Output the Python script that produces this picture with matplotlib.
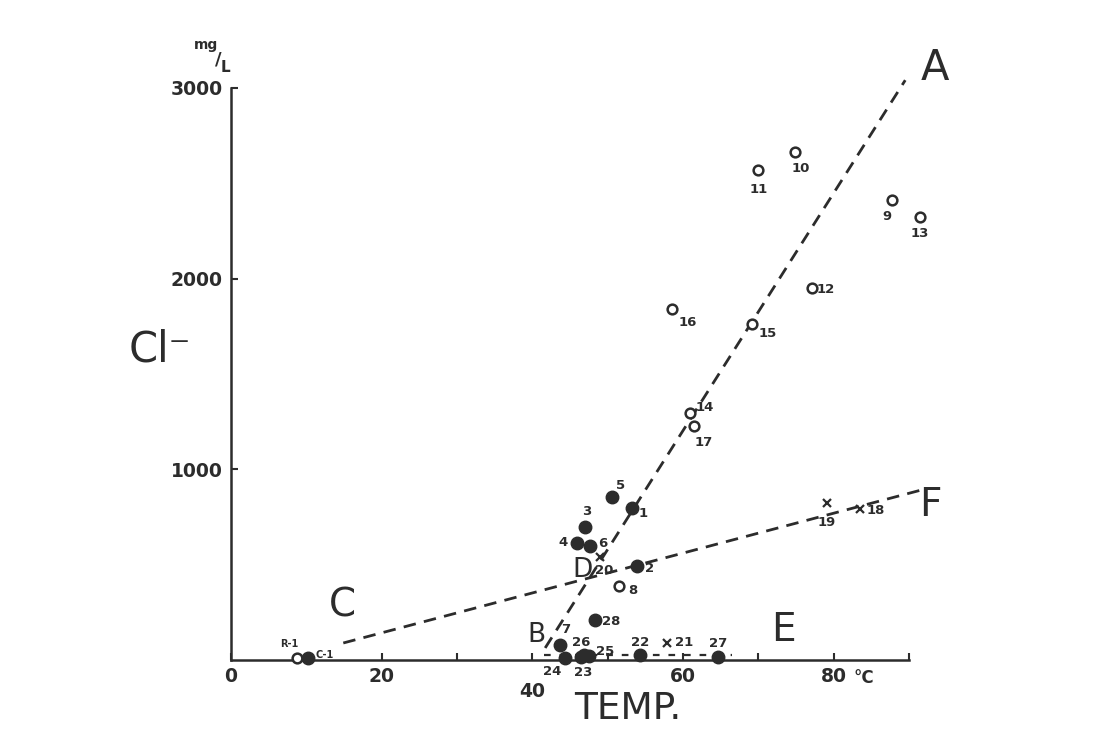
import matplotlib
matplotlib.use('Agg')
import matplotlib.pyplot as plt

# well data: temperature (deg C) and Cl- (mg/L)
open_ids = ['R-1', '8', '9', '10', '11', '12', '13', '14', '15', '16', '17']
open_temp = [8.7, 51.5, 87.8, 74.9, 70.0, 77.1, 91.4, 60.9, 69.2, 58.6, 61.5]
open_cl = [10, 388, 2412, 2664, 2570, 1951, 2323, 1295, 1762, 1841, 1227]

filled_ids = ['C-1', '1', '2', '3', '4', '5', '6', '7', '22', '23', '24', '25', '26', '27', '28']
filled_temp = [10.2, 53.2, 53.9, 47.0, 45.9, 50.6, 47.7, 43.7, 54.3, 46.5, 44.3, 47.5, 46.9, 64.6, 48.3]
filled_cl = [10, 797, 493, 697, 614, 855, 598, 79, 26, 16, 10, 21, 26, 16, 210]

cross_ids = ['18', '19', '20', '21']
cross_temp = [83.5, 79.1, 49.0, 57.9]
cross_cl = [792, 823, 540, 89]

# trend lines
line_a_temp = [41.7, 89.5]
line_a_cl = [63, 3041]
line_cf_temp = [14.9, 91.5]
line_cf_cl = [89, 890]
line_e_temp = [41.5, 66.5]
line_e_cl = [25, 25]

# label offsets (points) for the well numbers
offsets = {
    'R-1': (-5, 10), 'C-1': (12, 2), '1': (8, -4), '2': (9, -2), '3': (1, 11),
    '4': (-10, 0), '5': (6, 8), '6': (9, 2), '7': (4, 11), '8': (10, -3),
    '9': (-4, -12), '10': (4, -12), '11': (0, -14), '12': (10, -1), '13': (0, -12),
    '14': (11, 4), '15': (11, -7), '16': (11, -10), '17': (7, -12), '18': (11, -1),
    '19': (0, -14), '20': (3, -10), '21': (12, 0), '22': (0, 9), '23': (1, -11),
    '24': (-9, -10), '25': (12, 3), '26': (-2, 9), '27': (0, 10), '28': (12, -1),
}

ink = '#2c2c2c'

fig = plt.figure(figsize=(10.96, 7.29), dpi=100)
ax = fig.add_axes([0.2108, 0.0947, 0.6186, 0.7846])
ax.set_xlim(0, 90)
ax.set_ylim(0, 3000)
for s in ['top', 'right']:
    ax.spines[s].set_visible(False)
for s in ['left', 'bottom']:
    ax.spines[s].set_color(ink)
    ax.spines[s].set_linewidth(1.8)

ax.set_xticks(range(0, 100, 10))
ax.set_xticklabels(['0', '', '20', '', '40', '', '60', '', '80', ''], fontweight='bold')
ax.set_yticks([1000, 2000, 3000])
ax.set_yticklabels(['1000', '2000', '3000'], fontweight='bold')
ax.tick_params(direction='in', length=5, width=1.5, color=ink, labelcolor=ink, labelsize=13.5)
ax.tick_params(axis='x', pad=5)
ax.tick_params(axis='y', pad=6)
ax.xaxis.get_major_ticks()[4].set_pad(16)
ax.annotate('°C', xy=(80, 0), xytext=(22, -13), textcoords='offset points',
            ha='center', va='center', fontsize=12, fontweight='bold', color=ink,
            annotation_clip=False)

dash = (0, (4.5, 3))
ax.plot(line_a_temp, line_a_cl, color=ink, lw=2, ls=dash, clip_on=False)
ax.plot(line_cf_temp, line_cf_cl, color=ink, lw=2, ls=dash, clip_on=False)
ax.plot(line_e_temp, line_e_cl, color=ink, lw=1.6, ls=(0, (3, 4)), clip_on=False)

ax.plot(open_temp, open_cl, 'o', ms=7, mfc='white', mec=ink, mew=1.8, ls='none', clip_on=False, zorder=3)
ax.plot(filled_temp, filled_cl, 'o', ms=9, color=ink, ls='none', clip_on=False, zorder=3)
ax.plot(cross_temp, cross_cl, 'x', ms=6, color=ink, mew=1.6, ls='none', clip_on=False, zorder=3)

for ids, xs, ys in [(open_ids, open_temp, open_cl), (filled_ids, filled_temp, filled_cl),
                    (cross_ids, cross_temp, cross_cl)]:
    for name, x, y in zip(ids, xs, ys):
        fs = 7 if '-' in name else 9.5
        ax.annotate(name, xy=(x, y), xytext=offsets[name], textcoords='offset points',
                    ha='center', va='center', fontsize=fs, fontweight='bold', color=ink,
                    annotation_clip=False)

# line letters
big = dict(color=ink, ha='center', va='center', annotation_clip=False)
ax.annotate('A', xy=(93.5, 3104), fontsize=30, **big)
ax.annotate('C', xy=(14.8, 288), fontsize=28, **big)
ax.annotate('E', xy=(73.3, 157), fontsize=28, **big)
ax.annotate('F', xy=(92.8, 813), fontsize=28, **big)
ax.annotate('B', xy=(40.6, 131), fontsize=19, **big)
ax.annotate('D', xy=(46.7, 472), fontsize=19, **big)

# axis titles
fig.text(0.146, 0.52, 'Cl⁻', fontsize=30, color=ink, ha='center', va='center')
fig.text(0.573, 0.027, 'TEMP.', fontsize=27, color=ink, ha='center', va='center')
fig.text(0.188, 0.938, 'mg', fontsize=10, fontweight='bold', color=ink, ha='center', va='center')
fig.text(0.199, 0.918, '/', fontsize=13, fontweight='bold', color=ink, ha='center', va='center')
fig.text(0.206, 0.907, 'L', fontsize=11, fontweight='bold', color=ink, ha='center', va='center')

fig.savefig('out.png', dpi=100, facecolor='white')
